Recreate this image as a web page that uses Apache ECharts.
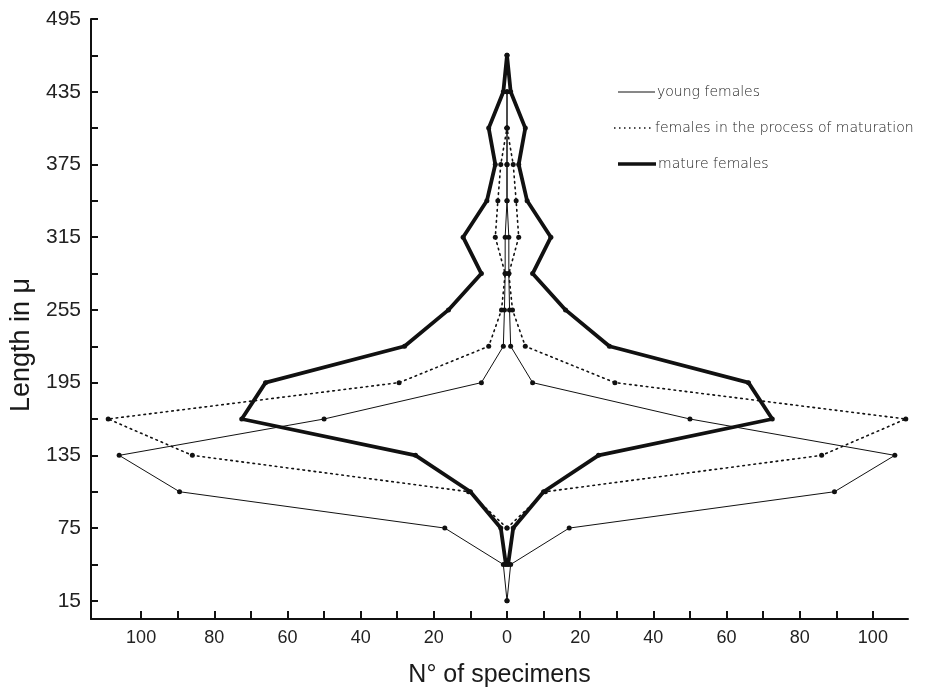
<!DOCTYPE html>
<html>
<head>
<meta charset="utf-8">
<title>Length distribution of females</title>
<script src="https://cdn.jsdelivr.net/npm/echarts@6/dist/echarts.min.js"></script>
<style>
  html, body { margin: 0; padding: 0; background: #fff; }
  #chart { width: 925px; height: 693px; }
</style>
</head>
<body>
<div id="chart"></div>
<script>
// Length classes (μ) and number of specimens per class; null = class not recorded
const lengths = [15, 45, 75, 105, 135, 165, 195, 225, 255, 285, 315, 345, 375, 405, 435, 465];
const youngFemales    = [0, 1, 17, 89.5, 106, 50, 7, 1, 0.7, 0.5, 0.5, 0, 0, 0, 0, null];
const maturingFemales = [null, null, 0, 10.5, 86, 109, 29.5, 5, 1.5, 0.5, 3.2, 2.5, 1.7, 0, null, null];
const matureFemales   = [null, 0.3, 1.7, 10, 25, 72.5, 66, 28, 16, 7, 12, 5.5, 3.2, 5, 1, 0];

// Axis ticks and labels
const yTicks  = [15, 45, 75, 105, 135, 165, 195, 225, 255, 285, 315, 345, 375, 405, 435, 465, 495];
const yLabels = [15, 75, 135, 195, 255, 315, 375, 435, 495];
const xTicks  = [-100, -90, -80, -70, -60, -50, -40, -30, -20, -10, 0, 10, 20, 30, 40, 50, 60, 70, 80, 90, 100];
const xLabels = [-100, -80, -60, -40, -20, 0, 20, 40, 60, 80, 100];

const INK = '#111';
const SANS = 'Liberation Sans, Arial, sans-serif';

// Each group is drawn as a kite: the same counts mirrored left and right of zero
function side(values, sign) {
  const pts = [];
  lengths.forEach((len, i) => {
    if (values[i] !== null) pts.push([sign * values[i], len]);
  });
  return pts;
}

function kite(name, values, lineStyle, symbolSize, z) {
  return [-1, 1].map(sign => ({
    name: name,
    type: 'line',
    data: side(values, sign),
    symbol: 'circle',
    symbolSize: symbolSize,
    itemStyle: { color: INK },
    lineStyle: Object.assign({ color: INK }, lineStyle),
    z: z,
    silent: true,
    animation: false
  }));
}

const series = [].concat(
  kite('females in the process of maturation', maturingFemales, { width: 1.6, type: [1.6, 4], cap: 'round' }, 5, 2),
  kite('young females', youngFemales, { width: 1 }, 5, 3),
  kite('mature females', matureFemales, { width: 3.8, join: 'round', cap: 'round' }, 5, 4)
);

const legendFont = { fontFamily: 'DejaVu Sans, sans-serif', fontWeight: 200, fontSize: 14, fill: '#222' };

const option = {
  backgroundColor: '#fff',
  animation: false,
  grid: { left: 91, right: 17, top: 19, bottom: 72, containLabel: false },
  xAxis: {
    type: 'value',
    min: -113.7,
    max: 109.6,
    name: 'N° of specimens',
    nameLocation: 'middle',
    nameGap: 44,
    nameTextStyle: { fontSize: 25, color: '#1a1a1a', fontFamily: SANS },
    axisLine: { onZero: false, lineStyle: { color: INK, width: 2 } },
    axisTick: { inside: true, length: 8, customValues: xTicks, lineStyle: { color: INK, width: 2 } },
    axisLabel: {
      customValues: xLabels,
      fontSize: 18,
      margin: 10,
      fontFamily: SANS,
      color: '#222',
      formatter: v => String(Math.abs(v))
    },
    splitLine: { show: false }
  },
  yAxis: {
    type: 'value',
    min: 0,
    max: 495,
    axisLine: { onZero: false, lineStyle: { color: INK, width: 2 } },
    axisTick: { inside: true, length: 7, customValues: yTicks, lineStyle: { color: INK, width: 2 } },
    axisLabel: {
      customValues: yLabels,
      fontSize: 21,
      margin: 10,
      fontFamily: SANS,
      color: '#222'
    },
    splitLine: { show: false }
  },
  graphic: [
    // vertical axis title
    {
      type: 'text', x: 22, y: 345, rotation: Math.PI / 2,
      style: { text: 'Length in μ', fontSize: 27, fontFamily: SANS, fill: '#1a1a1a', align: 'center', verticalAlign: 'middle' }
    },
    // key
    { type: 'line', shape: { x1: 618, y1: 92, x2: 655, y2: 92 }, style: { stroke: INK, lineWidth: 1 } },
    { type: 'text', x: 657, y: 92, style: Object.assign({ text: 'young females', verticalAlign: 'middle' }, legendFont) },
    { type: 'line', shape: { x1: 614, y1: 128, x2: 652, y2: 128 }, style: { stroke: INK, lineWidth: 1.5, lineDash: [1.5, 3.5] } },
    { type: 'text', x: 655, y: 128, style: Object.assign({ text: 'females in the process of maturation', verticalAlign: 'middle' }, legendFont) },
    { type: 'line', shape: { x1: 618, y1: 164, x2: 656, y2: 164 }, style: { stroke: INK, lineWidth: 3.5 } },
    { type: 'text', x: 658, y: 164, style: Object.assign({ text: 'mature females', verticalAlign: 'middle' }, legendFont) }
  ],
  series: series
};

const chart = echarts.init(document.getElementById('chart'), null, { renderer: 'canvas' });
chart.setOption(option);
</script>
</body>
</html>
